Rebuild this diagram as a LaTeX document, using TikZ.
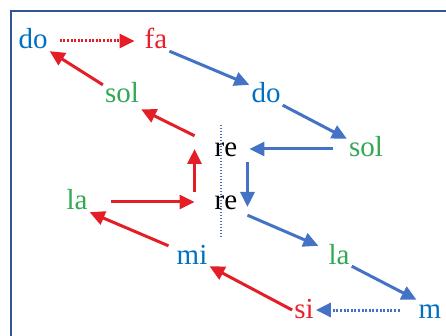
\documentclass[tikz,border=0pt]{standalone}
\usepackage{fontspec}
\setmainfont{Liberation Serif}
\usepackage{tikz}
\usetikzlibrary{arrows.meta,calc}
\definecolor{tblue}{HTML}{0070C0}
\definecolor{tred}{HTML}{E8202A}
\definecolor{tgreen}{HTML}{33A853}
\definecolor{ablue}{HTML}{4472C4}
\definecolor{ared}{HTML}{E41E26}
\definecolor{frame}{HTML}{2F5597}

\begin{document}
\begin{tikzpicture}[x=1pt, y=-1pt,
  note/.style={font=\fontsize{29}{31}\selectfont, inner sep=2pt,
               text height=16pt, text depth=0pt, anchor=base},
  up/.style={-{Triangle[length=15pt,width=14pt]}, line width=3pt, color=ared},
  down/.style={-{Triangle[length=15pt,width=14pt]}, line width=3pt, color=ablue},
  dots/.style={dash pattern=on 2pt off 1.6pt},
  sep/.style={line width=2pt, color=ablue, dash pattern=on 1.6pt off 1.4pt},
]
  \useasboundingbox (0,0) rectangle (446,336);
  \clip (0,0) rectangle (446,336);
  \draw[frame, line width=2.5pt] (11,360) -- (11,11) -- (470,11);
  % notes, by rows
  \node[note,text=tblue](do1) at (33,49){do}; \node[note,text=tred](fa) at (156,49){fa};
  \node[note,text=tgreen](sol1) at (122,103){sol}; \node[note,text=tblue](do2) at (266,103){do};
  \node[note](re1) at (226,157){re}; \node[note,text=tgreen](sol2) at (366,157){sol};
  \node[note,text=tgreen](la1) at (77,210){la}; \node[note](re2) at (226,210){re};
  \node[note,text=tblue](mi) at (192,264){mi}; \node[note,text=tgreen](la2) at (339,264){la};
  \node[note,text=tred](si) at (304,318){si}; \node[note,text=tblue](m) at (430,318){m};
  % blue: going down
  \draw[down](fa.south east)--(do2.north west);
  \draw[down](do2.south east)--(sol2.north west);
  \draw[down,shorten <=14pt,shorten >=10pt](sol2.west)--(re1.east);
  \draw[down]([xshift=8pt,yshift=-3pt]re1.south east)--([xshift=8pt,yshift=-5pt]re2.east);
  \draw[down]([xshift=8pt,yshift=-3pt]re2.south east)--([xshift=-8pt]la2.north west);
  \draw[down](la2.south east)--(m.north west);
  \draw[down,dots,shorten <=17pt](m.west)--(si.east);
  % red: going up
  \draw[up](si.west)--(mi.south east);
  \draw[up]([xshift=-6pt]mi.north west)--(la1.south east);
  \draw[up,shorten <=21pt](la1.east)--([xshift=-18pt]re2.west);
  \draw[up]([xshift=-18pt]re2.north west)--([xshift=-18pt]re1.west);
  \draw[up]([xshift=-18pt,yshift=3pt]re1.north west)--([yshift=-4pt]sol1.south east);
  \draw[up](sol1.north west)--(do1.south east);
  \draw[up,dots,shorten <=10pt,shorten >=8pt](do1.east)--(fa.west);
  % split line
  \draw[sep]([xshift=-5pt,yshift=14pt]re1.north)--([xshift=-5pt,yshift=-25pt]re2.south);
\end{tikzpicture}
\end{document}
